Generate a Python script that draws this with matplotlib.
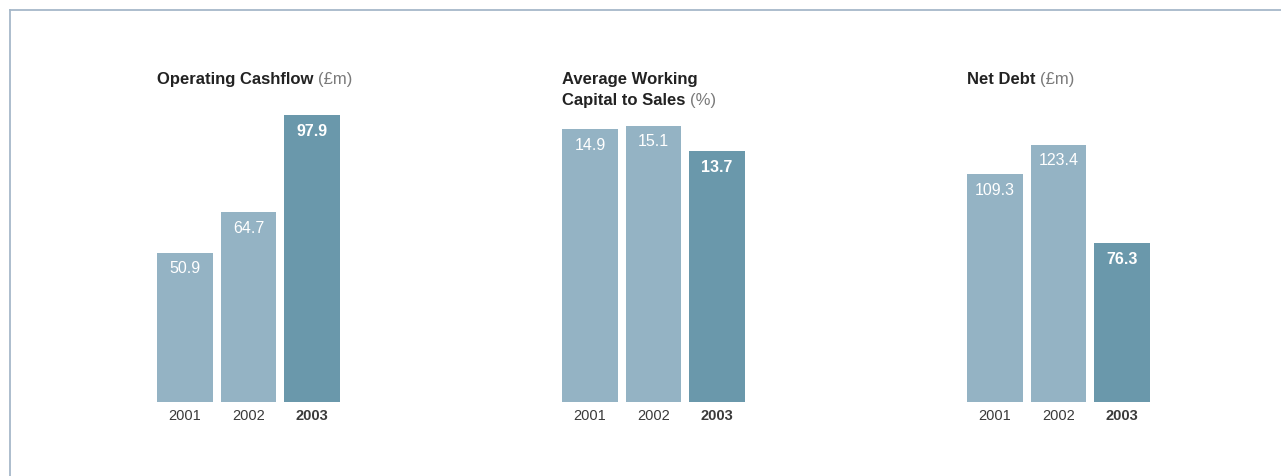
import matplotlib
matplotlib.use("Agg")
import matplotlib.pyplot as plt
from matplotlib.lines import Line2D

plt.rcParams["font.family"] = ["Liberation Sans", "DejaVu Sans"]

# -------------------- Data --------------------
years = ["2001", "2002", "2003"]

cashflow = [50.9, 64.7, 97.9]
working_capital = [14.9, 15.1, 13.7]
net_debt = [109.3, 123.4, 76.3]

titles = [
    ("Operating Cashflow", "(£m)"),
    ("Average Working\nCapital to Sales", "(%)"),
    ("Net Debt", "(£m)"),
]
series = [cashflow, working_capital, net_debt]
ymax = [102.4, 16.4, 144.0]

# -------------------- Style --------------------
W, H = 1281, 476
light = "#94b3c4"
dark = "#6a98ab"
border = "#a6b8c9"
title_col = "#222222"
sub_col = "#7a7a7a"
year_col = "#3a3a3a"

fig = plt.figure(figsize=(W / 100, H / 100), dpi=100)
fig.patch.set_facecolor("white")

# frame lines (top and left only)
fig.add_artist(Line2D([9.5 / W, 1], [1 - 9.5 / H] * 2, color=border, lw=1.3,
                      transform=fig.transFigure))
fig.add_artist(Line2D([9.5 / W] * 2, [0, 1 - 9.5 / H], color=border, lw=1.3,
                      transform=fig.transFigure))

lefts = [157, 562, 967]
bottom, top = 402, 102
width_px = 183

for i, (vals, (t_main, t_sub), ym) in enumerate(zip(series, titles, ymax)):
    ax = fig.add_axes([lefts[i] / W, 1 - bottom / H, width_px / W, (bottom - top) / H])
    x = [0, 1, 2]
    colors = [light, light, dark]
    ax.bar(x, vals, width=0.88, color=colors)
    ax.set_xlim(-0.44, 2.44)
    ax.set_ylim(0, ym)
    for s in ax.spines.values():
        s.set_visible(False)
    ax.set_yticks([])
    ax.set_xticks(x)
    ax.set_xticklabels(years, fontsize=10.5, color=year_col)
    ax.tick_params(axis="x", length=0, pad=5)
    ax.get_xticklabels()[2].set_fontweight("bold")

    for xi, v in zip(x, vals):
        ax.annotate(f"{v:.1f}", (xi, v), xytext=(0, -11.5), textcoords="offset points",
                    ha="center", va="center", color="white", fontsize=11.5,
                    fontweight="bold" if xi == 2 else "normal")

    # title: bold part + grey unit
    lines = t_main.split("\n")
    y0 = 1 - 72 / H
    t = None
    for j, ln in enumerate(lines):
        t = fig.text(lefts[i] / W, y0 - j * 21 / H, ln, fontsize=12, fontweight="bold",
                     color=title_col, ha="left", va="top")
    ax.annotate(t_sub, xy=(1, 0), xycoords=t, xytext=(3, 0), textcoords="offset points",
                ha="left", va="bottom", fontsize=12, color=sub_col)

fig.savefig("out.png", dpi=100)
